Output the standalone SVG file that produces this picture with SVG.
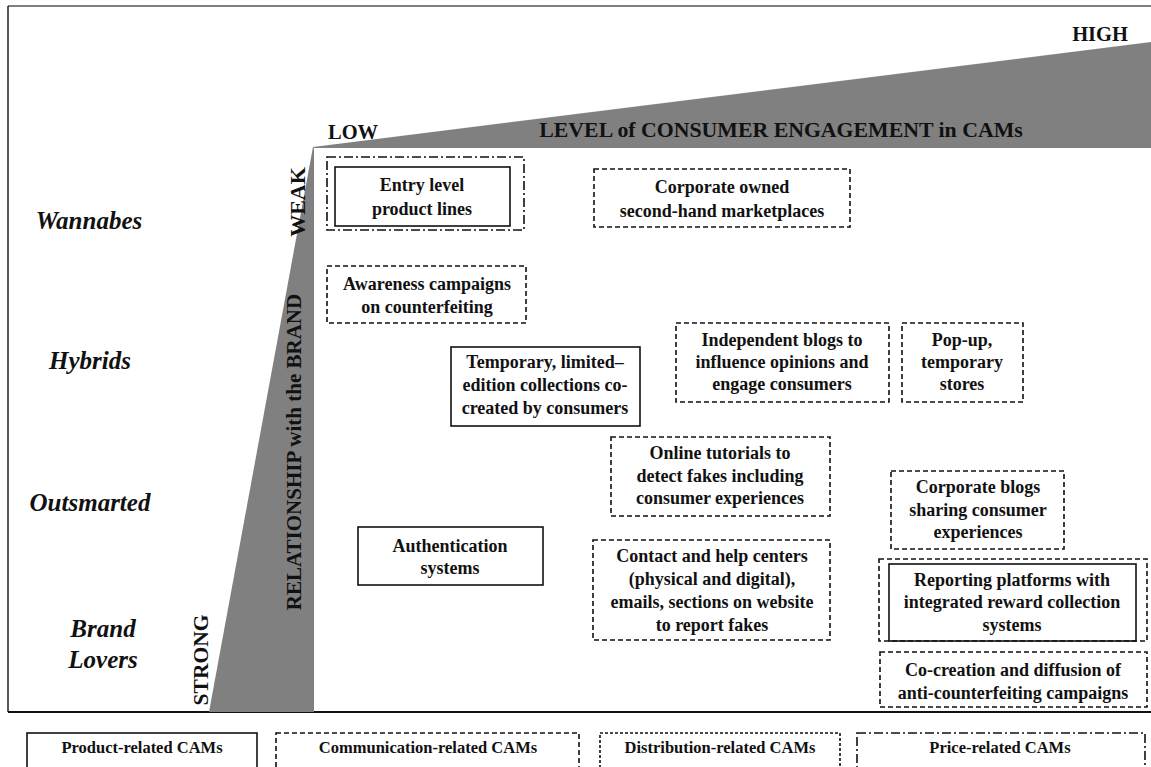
<svg xmlns="http://www.w3.org/2000/svg" width="1151" height="767" viewBox="0 0 1151 767">
<style>
text{font-family:"Liberation Serif","Times New Roman",serif;font-weight:bold;fill:#111;}
.t{font-size:18px;text-anchor:middle;}
.lg{font-size:16.5px;text-anchor:middle;}
.row{font-size:25px;font-style:italic;text-anchor:middle;}
.ax{font-size:20.5px;}
.solid{fill:none;stroke:#111;stroke-width:1.6;}
.dash{fill:none;stroke:#111;stroke-width:1.6;stroke-dasharray:5 3;}
.dd{fill:none;stroke:#111;stroke-width:1.6;stroke-dasharray:9 3 2 3;}
.fine{fill:none;stroke:#111;stroke-width:1.6;stroke-dasharray:3 2;}
.wedge{fill:#808080;}
</style>
<rect width="1151" height="767" fill="#fff"/>
<g id="frame">
<line x1="8" y1="6" x2="1151" y2="6" stroke="#555" stroke-width="1.5"/>
<line x1="8" y1="6" x2="8" y2="712" stroke="#222" stroke-width="1.5"/>
<line x1="8" y1="712" x2="1151" y2="712" stroke="#111" stroke-width="2.2"/>
</g>
<g id="axes">
<polygon class="wedge" points="313,147 1151,42 1151,148 314,148"/>
<polygon class="wedge" points="313,147 314,148 314,712 209,712"/>
<text class="ax" x="1128" y="41" text-anchor="end">HIGH</text>
<text class="ax" x="328" y="139">LOW</text>
<text x="781" y="137" text-anchor="middle" style="font-size:21.8px">LEVEL of CONSUMER ENGAGEMENT in CAMs</text>
<text transform="translate(305,202) rotate(-90)" text-anchor="middle" style="font-size:22px">WEAK</text>
<text transform="translate(208,660) rotate(-90)" text-anchor="middle" style="font-size:21.5px">STRONG</text>
<text transform="translate(301,452) rotate(-90)" text-anchor="middle" style="font-size:21px">RELATIONSHIP with the BRAND</text>
</g>
<g id="rows">
<text class="row" x="89" y="229">Wannabes</text>
<text class="row" x="90" y="369">Hybrids</text>
<text class="row" x="90" y="511">Outsmarted</text>
<text class="row" x="103" y="637">Brand</text>
<text class="row" x="103" y="668">Lovers</text>
</g>
<g id="entry-level">
<rect class="dd" x="327" y="157" width="197" height="73"/>
<rect class="solid" x="335" y="167" width="175" height="59"/>
<text class="t" x="422" y="191">Entry level</text>
<text class="t" x="422" y="215">product lines</text>
</g>
<g id="corporate-owned">
<rect class="dash" x="594" y="169" width="256" height="58"/>
<text class="t" x="722" y="193">Corporate owned</text>
<text class="t" x="722" y="217">second-hand marketplaces</text>
</g>
<g id="awareness">
<rect class="dash" x="327" y="266" width="199" height="57"/>
<text class="t" x="427" y="290">Awareness campaigns</text>
<text class="t" x="427" y="313">on counterfeiting</text>
</g>
<g id="temporary">
<rect class="solid" x="451" y="347" width="189" height="79"/>
<text class="t" x="545" y="368">Temporary, limited–</text>
<text class="t" x="545" y="391">edition collections co-</text>
<text class="t" x="545" y="414">created by consumers</text>
</g>
<g id="independent-blogs">
<rect class="dash" x="676" y="323" width="213" height="79"/>
<text class="t" x="782" y="346">Independent blogs to</text>
<text class="t" x="782" y="368">influence opinions and</text>
<text class="t" x="782" y="390">engage consumers</text>
</g>
<g id="popup">
<rect class="dash" x="902" y="323" width="121" height="79"/>
<text class="t" x="962" y="346">Pop-up,</text>
<text class="t" x="962" y="368">temporary</text>
<text class="t" x="962" y="390">stores</text>
</g>
<g id="online-tutorials">
<rect class="dash" x="611" y="437" width="219" height="79"/>
<text class="t" x="720" y="459">Online tutorials to</text>
<text class="t" x="720" y="482">detect fakes including</text>
<text class="t" x="720" y="504">consumer experiences</text>
</g>
<g id="corporate-blogs">
<rect class="dash" x="891" y="471" width="173" height="78"/>
<text class="t" x="978" y="493">Corporate blogs</text>
<text class="t" x="978" y="516">sharing consumer</text>
<text class="t" x="978" y="538">experiences</text>
</g>
<g id="authentication">
<rect class="solid" x="358" y="527" width="185" height="58"/>
<text class="t" x="450" y="552">Authentication</text>
<text class="t" x="450" y="574">systems</text>
</g>
<g id="contact">
<rect class="dash" x="593" y="540" width="237" height="100"/>
<text class="t" x="712" y="562">Contact and help centers</text>
<text class="t" x="712" y="585">(physical and digital),</text>
<text class="t" x="712" y="608">emails, sections on website</text>
<text class="t" x="712" y="631">to report fakes</text>
</g>
<g id="reporting">
<rect class="dash" x="879" y="559" width="268" height="82"/>
<rect class="solid" x="889" y="564" width="247" height="77"/>
<text class="t" x="1012" y="586">Reporting platforms with</text>
<text class="t" x="1012" y="608">integrated reward collection</text>
<text class="t" x="1012" y="631">systems</text>
</g>
<g id="co-creation">
<rect class="dash" x="880" y="652" width="267" height="55"/>
<text class="t" x="1013" y="676">Co-creation and diffusion of</text>
<text class="t" x="1013" y="699">anti-counterfeiting campaigns</text>
</g>
<g id="legend">
<rect class="solid" x="27" y="733" width="230" height="50"/>
<text class="lg" x="142" y="753">Product-related CAMs</text>
<rect class="dash" x="276" y="733" width="303" height="50"/>
<text class="lg" x="428" y="753">Communication-related CAMs</text>
<rect class="fine" x="600" y="733" width="240" height="50"/>
<text class="lg" x="720" y="753">Distribution-related  CAMs</text>
<rect class="dd" x="857" y="733" width="288" height="50"/>
<text class="lg" x="1000" y="753">Price-related CAMs</text>
</g>
<g id="connectors"></g>
</svg>
